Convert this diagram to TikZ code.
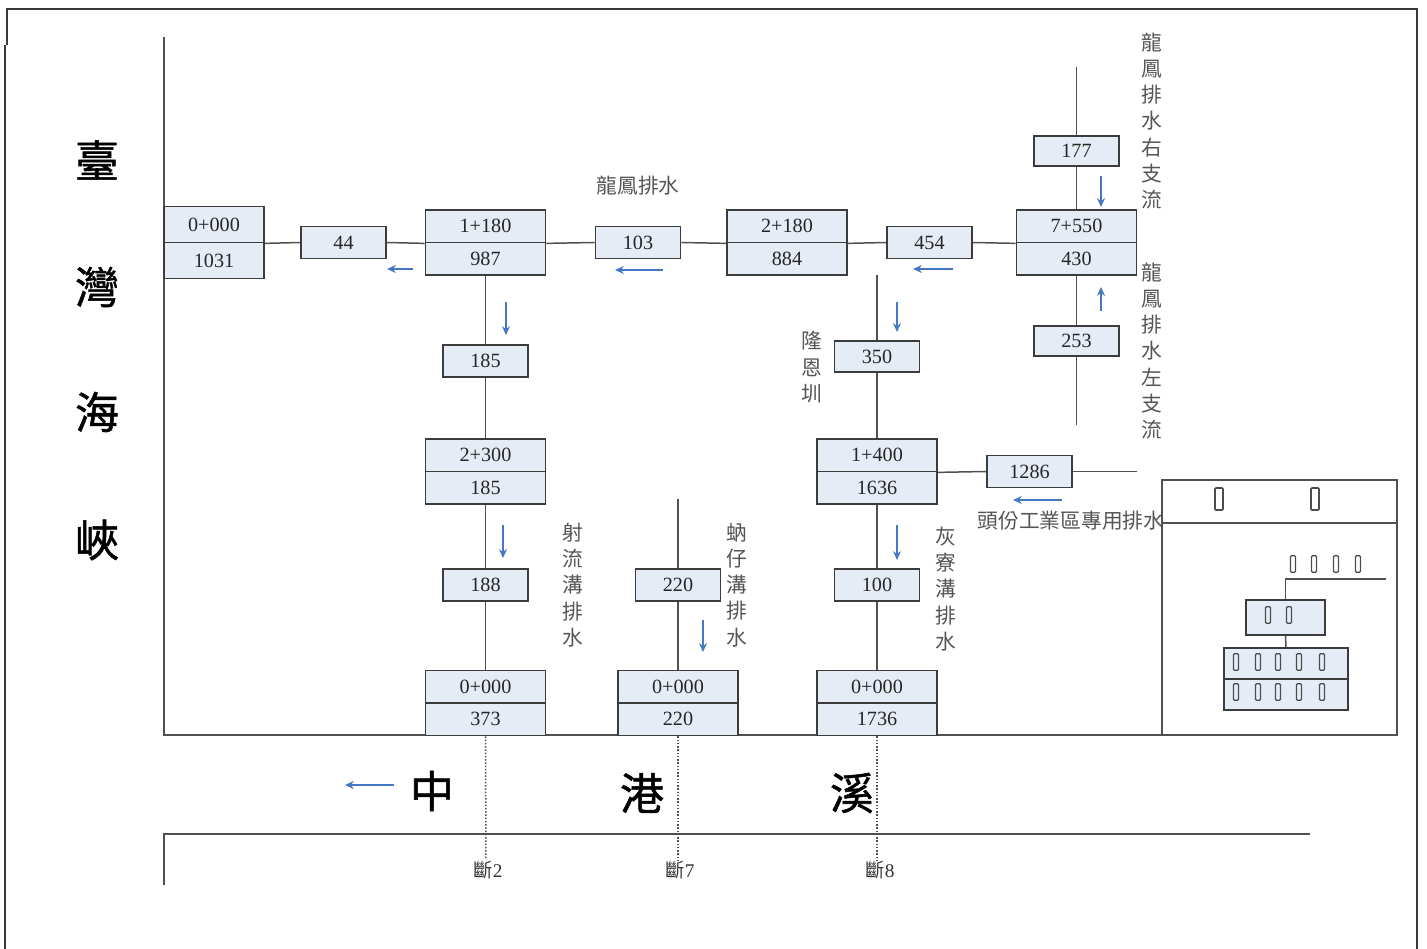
\documentclass[tikz,border=0pt]{standalone}
\usepackage{fontspec}
\setmainfont{Liberation Serif}
\newfontfamily\cjk{Noto Sans CJK TC}
\newfontfamily\cjkheavy[FakeBold=1.2]{Noto Sans CJK TC}
\usetikzlibrary{arrows.meta}
\definecolor{boxfill}{HTML}{E6ECF6}
\definecolor{boxline}{HTML}{3C3C3C}
\definecolor{wirecol}{HTML}{505050}
\definecolor{flowcol}{HTML}{4677C4}
\definecolor{lblcol}{HTML}{555555}
\definecolor{framecol}{HTML}{3A3A3A}

\begin{document}
\begin{tikzpicture}[x=0.02cm,y=-0.02cm,
  every node/.style={inner sep=0pt},
  cell/.style={draw=boxline, line width=1pt, fill=boxfill, minimum width=1.7cm,
    minimum height=0.64cm, font=\fontsize{11.5}{13}\selectfont, text=black!85},
  wide/.style={cell, minimum width=2.4cm, minimum height=0.65cm},
  wire/.style={draw=wirecol, line width=0.85pt},
  frameline/.style={draw=framecol, line width=1.4pt},
  flowarrow/.style={draw=flowcol, line width=0.9pt, -{Stealth[length=5pt,width=4.5pt]}},
  vtext/.style={align=center, text=lblcol, font=\cjk\fontsize{11.8}{14.9}\selectfont},
  htext/.style={text=lblcol, font=\cjk\fontsize{11.8}{14}\selectfont},
  bigtext/.style={text=black, font=\cjkheavy\fontsize{25}{28}\selectfont},
  sectext/.style={text=black!80, font=\fontsize{11}{13}\selectfont},
  tofu/.style={draw=black!70, line width=0.7pt, rounded corners=0.6pt,
    minimum width=0.1cm, minimum height=0.33cm},
  bigtofu/.style={tofu, line width=0.9pt, minimum width=0.16cm, minimum height=0.44cm}]

\useasboundingbox (0,0) rectangle (1427,949);

% outer frame
\draw[frameline] (7,45) -- (7,9) -- (1417,9) -- (1417,949);
\draw[frameline] (5,45) -- (5,949);

% river banks of Zhonggang Creek
\draw[wire] (164,37) -- (164,735) -- (1310,735);
\draw[wire] (1310,834) -- (164,834) -- (164,885);

% strait label
\node[bigtext] (t1) at (97,160) {臺};
\node[bigtext] (t2) at (97,287) {灣};
\node[bigtext] (t3) at (97,412) {海};
\node[bigtext] (t4) at (97,540) {峽};

% creek label
\node[bigtext] (r1) at (432,791) {中};
\node[bigtext] (r2) at (642,793) {港};
\node[bigtext] (r3) at (852,793) {溪};
\coordinate (rf1) at (394,785);
\coordinate (rf2) at (345,785);
\draw[flowarrow] (rf1) -- (rf2);

% ---- Longfeng drain (main line) ----
\node[wide, minimum width=2cm, minimum height=0.72cm] (a0k) at (214,224.5) {0+000};
\node[wide, minimum width=2cm, minimum height=0.72cm] (a0q) at (214,260.5) {1031};
\node[cell] (n44) at (343.5,242.5) {44};
\node[wide] (b1k) at (485.5,226.25) {1+180};
\node[wide] (b1q) at (485.5,258.75) {987};
\node[cell] (n103) at (638,242.5) {103};
\node[wide] (c2k) at (787,226.25) {2+180};
\node[wide] (c2q) at (787,258.75) {884};
\node[cell] (n454) at (929.5,242.5) {454};
\node[wide] (d7k) at (1076.5,226.25) {7+550};
\node[wide] (d7q) at (1076.5,258.75) {430};

\draw[wire] (a0k.south east) -- (n44.west);
\draw[wire] (n44.east) -- (b1k.south west);
\draw[wire] (b1k.south east) -- (n103.west);
\draw[wire] (n103.east) -- (c2k.south west);
\draw[wire] (c2k.south east) -- (n454.west);
\draw[wire] (n454.east) -- (d7k.south west);

\node[htext] (lf) at (638,186) {龍鳳排水};

% right and left tributaries
\node[cell, minimum height=0.6cm] (n177) at (1076.5,151) {177};
\node[cell, minimum height=0.6cm] (n253) at (1076.5,341) {253};
\coordinate (rtop) at (1076.5,67);
\coordinate (lbot) at (1076.5,425);
\draw[wire] (rtop) -- (n177.north);
\draw[wire] (n177.south) -- (d7k.north);
\draw[wire] (d7q.south) -- (n253.north);
\draw[wire] (n253.south) -- (lbot);
\node[vtext] (rtrib) at (1152,121) {龍\\鳳\\排\\水\\右\\支\\流};
\node[vtext] (ltrib) at (1152,351) {龍\\鳳\\排\\水\\左\\支\\流};

% ---- Sheliugou drain ----
\node[cell] (n185) at (485.5,361) {185};
\node[wide] (e2k) at (485.5,455.25) {2+300};
\node[wide] (e2q) at (485.5,487.75) {185};
\node[cell] (n188) at (485.5,585) {188};
\node[wide] (f0k) at (485.5,686.75) {0+000};
\node[wide] (f0q) at (485.5,719.25) {373};
\draw[wire] (b1q.south) -- (n185.north);
\draw[wire] (n185.south) -- (e2k.north);
\draw[wire] (e2q.south) -- (n188.north);
\draw[wire] (n188.south) -- (f0k.north);
\node[vtext] (sl) at (573,585) {射\\流\\溝\\排\\水};

% ---- Ruizaigou drain ----
\coordinate (gtop) at (678,499);
\node[cell] (n220) at (678,585) {220};
\node[wide] (g0k) at (678,686.75) {0+000};
\node[wide] (g0q) at (678,719.25) {220};
\draw[wire] (gtop) -- (n220.north);
\draw[wire] (n220.south) -- (g0k.north);
\node[vtext] (rz) at (737,585) {蚋\\仔\\溝\\排\\水};

% ---- Longen canal / Huiliaogou drain ----
\coordinate (htop) at (877,275);
\node[cell, minimum height=0.62cm] (n350) at (877,356.5) {350};
\node[wide] (h1k) at (877,455.25) {1+400};
\node[wide] (h1q) at (877,487.75) {1636};
\node[cell] (n100) at (877,585) {100};
\node[wide] (h0k) at (877,686.75) {0+000};
\node[wide] (h0q) at (877,719.25) {1736};
\draw[wire] (htop) -- (n350.north);
\draw[wire] (n350.south) -- (h1k.north);
\draw[wire] (h1q.south) -- (n100.north);
\draw[wire] (n100.south) -- (h0k.north);
\node[vtext] (le) at (812,367) {隆\\恩\\圳};
\node[vtext] (hl) at (946,589) {灰\\寮\\溝\\排\\水};

% Toufen industrial park drain
\node[cell] (n1286) at (1029.5,471.5) {1286};
\coordinate (tend) at (1137,471.5);
\draw[wire] (h1k.south east) -- (n1286.west);
\draw[wire] (n1286.east) -- (tend);
\node[htext] (tf) at (1071,521) {頭份工業區專用排水};

% flow directions
\draw[flowarrow] (413,269) -- (387,269);
\draw[flowarrow] (663,270) -- (615,270);
\draw[flowarrow] (953,269) -- (913,269);
\draw[flowarrow] (1062,500) -- (1013,500);
\draw[flowarrow] (506,302) -- (506,335);
\draw[flowarrow] (1101,176) -- (1101,207);
\draw[flowarrow] (1101,311) -- (1101,287);
\draw[flowarrow] (897,302) -- (897,332);
\draw[flowarrow] (503,525) -- (503,558);
\draw[flowarrow] (703,620) -- (703,652);
\draw[flowarrow] (897,525) -- (897,560);

% cross sections
\coordinate (s2) at (486,860);
\coordinate (s7) at (678,860);
\coordinate (s8) at (877,860);
\draw[wire, densely dotted] (f0q.south) -- (s2);
\draw[wire, densely dotted] (g0q.south) -- (s7);
\draw[wire, densely dotted] (h0q.south) -- (s8);
\node[sectext] (l2) at (488,870) {{\cjk 斷}2};
\node[sectext] (l7) at (680,870) {{\cjk 斷}7};
\node[sectext] (l8) at (880,870) {{\cjk 斷}8};

% legend
\draw[wire] (1162,480) rectangle (1397,735);
\draw[wire] (1162,523) -- (1397,523);
\node[bigtofu] (lt1) at (1219,499) {};
\node[bigtofu] (lt2) at (1315,499) {};
\node[cell, minimum width=1.58cm, minimum height=0.7cm] (lb1) at (1285.5,617.5) {};
\node[wide, minimum width=2.48cm, minimum height=0.62cm] (lb2k) at (1286,663.5) {};
\node[wide, minimum width=2.48cm, minimum height=0.62cm] (lb2q) at (1286,694.5) {};
\coordinate (lgend) at (1386,579);
\draw[wire] (lgend) -- (lb1.north |- lgend) -- (lb1.north);
\draw[wire] (lb1.south) -- (lb2k.north);
\foreach \x [count=\i] in {1293,1314,1336,1358}
  \node[tofu] (la\i) at (\x,564) {};
\foreach \x [count=\i] in {1268,1289}
  \node[tofu] (lc\i) at (\x,615) {};
\foreach \x [count=\i] in {1236,1258,1278,1299,1322} {
  \node[tofu] (ld\i) at (\x,662) {};
  \node[tofu] (le\i) at (\x,692) {};
}
\end{tikzpicture}
\end{document}
